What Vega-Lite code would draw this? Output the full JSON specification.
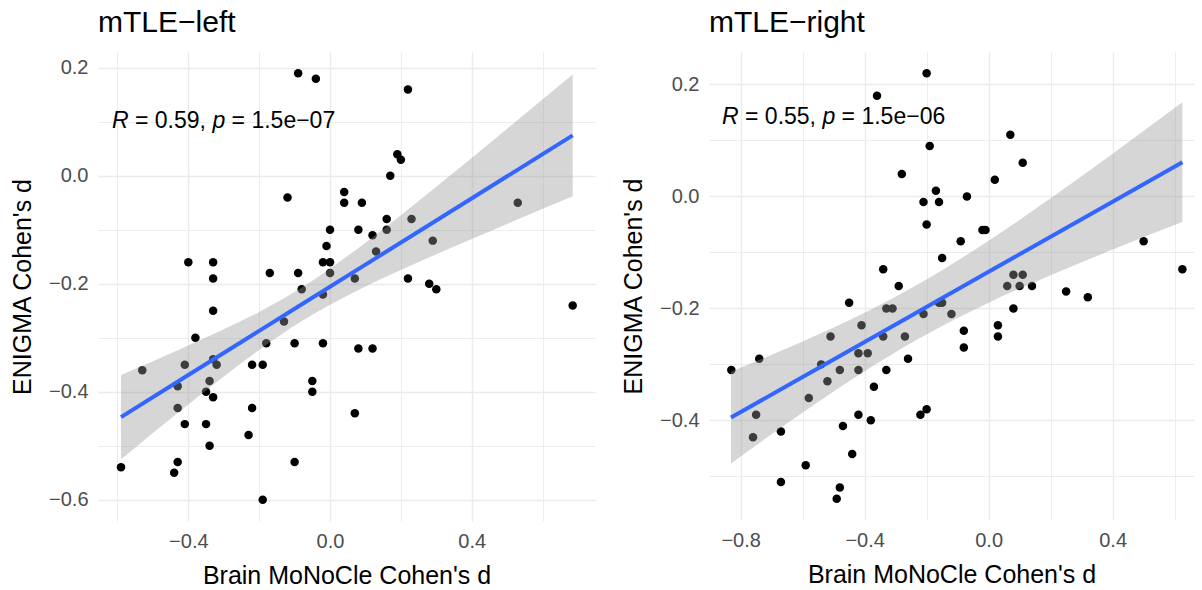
{
  "$schema": "https://vega.github.io/schema/vega-lite/v6.json",
  "background": "white",
  "padding": {"left": 10, "top": 8, "right": 6, "bottom": 2},
  "spacing": 26,
  "config": {
    "font": "Liberation Sans",
    "view": {"stroke": null},
    "axis": {
      "labelFont": "Liberation Sans", "labelFontSize": 20, "labelColor": "#4D4D4D",
      "titleFont": "Liberation Sans", "titleFontSize": 25, "titleColor": "#000000", "titleFontWeight": "normal",
      "domain": false, "ticks": false, "tickSize": 0, "gridColor": "#EBEBEB", "labelPadding": 10
    },
    "axisY": {"titlePadding": 13},
    "axisX": {"titlePadding": 12},
    "title": {"font": "Liberation Sans", "fontSize": 30, "fontWeight": "normal", "color": "#000000", "anchor": "start", "frame": "group", "offset": 14}
  },
  "datasets": {
    "leftPts": [
      {"monocle": -0.09, "enigma": 0.19}, {"monocle": -0.04, "enigma": 0.18}, {"monocle": -0.12, "enigma": -0.04},
      {"monocle": 0.04, "enigma": -0.03}, {"monocle": 0.04, "enigma": -0.05}, {"monocle": 0.0, "enigma": -0.10},
      {"monocle": -0.01, "enigma": -0.13}, {"monocle": -0.02, "enigma": -0.16}, {"monocle": 0.0, "enigma": -0.16},
      {"monocle": -0.40, "enigma": -0.16}, {"monocle": -0.33, "enigma": -0.16}, {"monocle": -0.33, "enigma": -0.19},
      {"monocle": -0.17, "enigma": -0.18}, {"monocle": -0.09, "enigma": -0.18}, {"monocle": 0.0, "enigma": -0.18},
      {"monocle": 0.09, "enigma": -0.05}, {"monocle": 0.22, "enigma": 0.16}, {"monocle": 0.19, "enigma": 0.04},
      {"monocle": 0.20, "enigma": 0.03}, {"monocle": 0.17, "enigma": 0.0}, {"monocle": 0.16, "enigma": -0.08},
      {"monocle": 0.23, "enigma": -0.08}, {"monocle": 0.08, "enigma": -0.10}, {"monocle": 0.16, "enigma": -0.10},
      {"monocle": 0.12, "enigma": -0.11}, {"monocle": 0.13, "enigma": -0.14}, {"monocle": 0.29, "enigma": -0.12},
      {"monocle": 0.53, "enigma": -0.05}, {"monocle": 0.07, "enigma": -0.19}, {"monocle": 0.22, "enigma": -0.19},
      {"monocle": 0.28, "enigma": -0.20}, {"monocle": 0.30, "enigma": -0.21}, {"monocle": 0.685, "enigma": -0.24},
      {"monocle": 0.08, "enigma": -0.32}, {"monocle": 0.12, "enigma": -0.32}, {"monocle": 0.07, "enigma": -0.44},
      {"monocle": -0.08, "enigma": -0.21}, {"monocle": -0.02, "enigma": -0.22}, {"monocle": -0.33, "enigma": -0.25},
      {"monocle": -0.13, "enigma": -0.27}, {"monocle": -0.38, "enigma": -0.30}, {"monocle": -0.18, "enigma": -0.31},
      {"monocle": -0.10, "enigma": -0.31}, {"monocle": -0.02, "enigma": -0.31}, {"monocle": -0.53, "enigma": -0.36},
      {"monocle": -0.41, "enigma": -0.35}, {"monocle": -0.33, "enigma": -0.34}, {"monocle": -0.32, "enigma": -0.35},
      {"monocle": -0.22, "enigma": -0.35}, {"monocle": -0.19, "enigma": -0.35}, {"monocle": -0.34, "enigma": -0.38},
      {"monocle": -0.43, "enigma": -0.39}, {"monocle": -0.35, "enigma": -0.40}, {"monocle": -0.33, "enigma": -0.41},
      {"monocle": -0.05, "enigma": -0.38}, {"monocle": -0.05, "enigma": -0.40}, {"monocle": -0.43, "enigma": -0.43},
      {"monocle": -0.22, "enigma": -0.43}, {"monocle": -0.41, "enigma": -0.46}, {"monocle": -0.35, "enigma": -0.46},
      {"monocle": -0.23, "enigma": -0.48}, {"monocle": -0.34, "enigma": -0.50}, {"monocle": -0.59, "enigma": -0.54},
      {"monocle": -0.43, "enigma": -0.53}, {"monocle": -0.44, "enigma": -0.55}, {"monocle": -0.10, "enigma": -0.53},
      {"monocle": -0.19, "enigma": -0.60}
    ],
    "rightPts": [
      {"monocle": -0.20, "enigma": 0.22}, {"monocle": -0.36, "enigma": 0.18}, {"monocle": -0.19, "enigma": 0.09},
      {"monocle": -0.28, "enigma": 0.04}, {"monocle": -0.17, "enigma": 0.01}, {"monocle": -0.21, "enigma": -0.01},
      {"monocle": -0.16, "enigma": -0.01}, {"monocle": -0.20, "enigma": -0.05}, {"monocle": -0.15, "enigma": -0.11},
      {"monocle": -0.34, "enigma": -0.13}, {"monocle": 0.07, "enigma": 0.11}, {"monocle": 0.11, "enigma": 0.06},
      {"monocle": 0.02, "enigma": 0.03}, {"monocle": -0.07, "enigma": 0.0}, {"monocle": -0.02, "enigma": -0.06},
      {"monocle": -0.01, "enigma": -0.06}, {"monocle": -0.09, "enigma": -0.08}, {"monocle": 0.50, "enigma": -0.08},
      {"monocle": 0.625, "enigma": -0.13}, {"monocle": 0.08, "enigma": -0.14}, {"monocle": 0.11, "enigma": -0.14},
      {"monocle": 0.06, "enigma": -0.16}, {"monocle": 0.10, "enigma": -0.16}, {"monocle": 0.14, "enigma": -0.16},
      {"monocle": 0.25, "enigma": -0.17}, {"monocle": 0.32, "enigma": -0.18}, {"monocle": -0.16, "enigma": -0.19},
      {"monocle": -0.15, "enigma": -0.19}, {"monocle": -0.12, "enigma": -0.21}, {"monocle": 0.08, "enigma": -0.20},
      {"monocle": -0.08, "enigma": -0.24}, {"monocle": -0.08, "enigma": -0.27}, {"monocle": 0.03, "enigma": -0.23},
      {"monocle": 0.03, "enigma": -0.25}, {"monocle": -0.29, "enigma": -0.16}, {"monocle": -0.45, "enigma": -0.19},
      {"monocle": -0.33, "enigma": -0.20}, {"monocle": -0.31, "enigma": -0.20}, {"monocle": -0.21, "enigma": -0.21},
      {"monocle": -0.41, "enigma": -0.23}, {"monocle": -0.51, "enigma": -0.25}, {"monocle": -0.34, "enigma": -0.25},
      {"monocle": -0.27, "enigma": -0.25}, {"monocle": -0.74, "enigma": -0.29}, {"monocle": -0.26, "enigma": -0.29},
      {"monocle": -0.42, "enigma": -0.28}, {"monocle": -0.39, "enigma": -0.28}, {"monocle": -0.54, "enigma": -0.30},
      {"monocle": -0.83, "enigma": -0.31}, {"monocle": -0.48, "enigma": -0.31}, {"monocle": -0.42, "enigma": -0.31},
      {"monocle": -0.33, "enigma": -0.31}, {"monocle": -0.52, "enigma": -0.33}, {"monocle": -0.37, "enigma": -0.34},
      {"monocle": -0.58, "enigma": -0.36}, {"monocle": -0.75, "enigma": -0.39}, {"monocle": -0.42, "enigma": -0.39},
      {"monocle": -0.38, "enigma": -0.40}, {"monocle": -0.22, "enigma": -0.39}, {"monocle": -0.20, "enigma": -0.38},
      {"monocle": -0.76, "enigma": -0.43}, {"monocle": -0.67, "enigma": -0.42}, {"monocle": -0.47, "enigma": -0.41},
      {"monocle": -0.44, "enigma": -0.46}, {"monocle": -0.59, "enigma": -0.48}, {"monocle": -0.67, "enigma": -0.51},
      {"monocle": -0.48, "enigma": -0.52}, {"monocle": -0.49, "enigma": -0.54}
    ],
    "leftBand": [
      {"monocle": -0.59, "lo": -0.525, "hi": -0.369, "fit": -0.447},
      {"monocle": -0.4, "lo": -0.4235, "hi": -0.3145, "fit": -0.369},
      {"monocle": -0.2, "lo": -0.3225, "hi": -0.2521, "fit": -0.2873},
      {"monocle": -0.084, "lo": -0.2709, "hi": -0.2087, "fit": -0.2398},
      {"monocle": 0.1, "lo": -0.2051, "hi": -0.1239, "fit": -0.1645},
      {"monocle": 0.3, "lo": -0.1452, "hi": -0.02, "fit": -0.0826},
      {"monocle": 0.5, "lo": -0.089, "hi": 0.0874, "fit": -0.0008},
      {"monocle": 0.685, "lo": -0.038, "hi": 0.188, "fit": 0.075}
    ],
    "rightBand": [
      {"monocle": -0.831, "lo": -0.477, "hi": -0.313, "fit": -0.395},
      {"monocle": -0.6, "lo": -0.3859, "hi": -0.2593, "fit": -0.3226},
      {"monocle": -0.4, "lo": -0.3121, "hi": -0.2079, "fit": -0.26},
      {"monocle": -0.236, "lo": -0.2575, "hi": -0.1597, "fit": -0.2086},
      {"monocle": 0.0, "lo": -0.19, "hi": -0.0792, "fit": -0.1346},
      {"monocle": 0.2, "lo": -0.1407, "hi": -0.0033, "fit": -0.072},
      {"monocle": 0.4, "lo": -0.0949, "hi": 0.0763, "fit": -0.0093},
      {"monocle": 0.625, "lo": -0.0458, "hi": 0.1682, "fit": 0.0612}
    ],
    "leftLab": [{"monocle": -0.6155, "enigma": 0.101}],
    "rightLab": [{"monocle": -0.86, "enigma": 0.1416}]
  },
  "hconcat": [
    {
      "title": "mTLE−left",
      "width": 497,
      "height": 469,
      "layer": [
        {
          "data": {"name": "leftPts"},
          "mark": {"type": "circle", "size": 72, "color": "#000000", "opacity": 1},
          "encoding": {
            "x": {"field": "monocle", "type": "quantitative",
              "scale": {"domain": [-0.655, 0.748], "nice": false, "zero": false},
              "axis": {"title": "Brain MoNoCle Cohen's d", "values": [-0.6, -0.4, -0.2, 0, 0.2, 0.4, 0.6], "format": ".1f",
                "labelExpr": "abs(round(datum.value*10)) % 4 == 0 ? datum.label : ''",
                "gridWidth": {"condition": {"test": "abs(round(datum.value*10)) % 4 == 0", "value": 1.4}, "value": 0.9}}},
            "y": {"field": "enigma", "type": "quantitative",
              "scale": {"domain": [-0.6395, 0.2295], "nice": false, "zero": false},
              "axis": {"title": "ENIGMA Cohen's d", "values": [-0.6, -0.5, -0.4, -0.3, -0.2, -0.1, 0, 0.1, 0.2], "format": ".1f",
                "labelExpr": "abs(round(datum.value*10)) % 2 == 0 ? datum.label : ''",
                "gridWidth": {"condition": {"test": "abs(round(datum.value*10)) % 2 == 0", "value": 1.4}, "value": 0.9}}}
          }
        },
        {
          "data": {"name": "leftBand"},
          "mark": {"type": "area", "color": "#999999", "opacity": 0.4, "interpolate": "monotone"},
          "encoding": {
            "x": {"field": "monocle", "type": "quantitative", "title": "Brain MoNoCle Cohen's d"},
            "y": {"field": "lo", "type": "quantitative", "title": "ENIGMA Cohen's d"},
            "y2": {"field": "hi"}
          }
        },
        {
          "data": {"name": "leftBand"},
          "mark": {"type": "line", "color": "#3366FF", "strokeWidth": 4},
          "encoding": {
            "x": {"field": "monocle", "type": "quantitative", "title": "Brain MoNoCle Cohen's d"},
            "y": {"field": "fit", "type": "quantitative", "title": "ENIGMA Cohen's d"}
          }
        },
        {
          "data": {"name": "leftLab"},
          "layer": [
            {"mark": {"type": "text", "text": "R", "fontStyle": "italic", "fontSize": 23, "align": "left", "baseline": "middle", "color": "#000000"}},
            {"mark": {"type": "text", "text": "= 0.59,", "fontSize": 23, "align": "left", "baseline": "middle", "dx": 23, "color": "#000000"}},
            {"mark": {"type": "text", "text": "p", "fontStyle": "italic", "fontSize": 23, "align": "left", "baseline": "middle", "dx": 100.4, "color": "#000000"}},
            {"mark": {"type": "text", "text": "= 1.5e−07", "fontSize": 23, "align": "left", "baseline": "middle", "dx": 119.6, "color": "#000000"}}
          ],
          "encoding": {
            "x": {"field": "monocle", "type": "quantitative", "title": "Brain MoNoCle Cohen's d"},
            "y": {"field": "enigma", "type": "quantitative", "title": "ENIGMA Cohen's d"}
          }
        }
      ]
    },
    {
      "title": "mTLE−right",
      "width": 485,
      "height": 468,
      "layer": [
        {
          "data": {"name": "rightPts"},
          "mark": {"type": "circle", "size": 72, "color": "#000000", "opacity": 1},
          "encoding": {
            "x": {"field": "monocle", "type": "quantitative",
              "scale": {"domain": [-0.902, 0.6625], "nice": false, "zero": false},
              "axis": {"title": "Brain MoNoCle Cohen's d", "values": [-0.8, -0.6, -0.4, -0.2, 0, 0.2, 0.4, 0.6], "format": ".1f",
                "labelExpr": "abs(round(datum.value*10)) % 4 == 0 ? datum.label : ''",
                "gridWidth": {"condition": {"test": "abs(round(datum.value*10)) % 4 == 0", "value": 1.4}, "value": 0.9}}},
            "y": {"field": "enigma", "type": "quantitative",
              "scale": {"domain": [-0.578, 0.258], "nice": false, "zero": false},
              "axis": {"title": "ENIGMA Cohen's d", "values": [-0.5, -0.4, -0.3, -0.2, -0.1, 0, 0.1, 0.2], "format": ".1f",
                "labelExpr": "abs(round(datum.value*10)) % 2 == 0 ? datum.label : ''",
                "gridWidth": {"condition": {"test": "abs(round(datum.value*10)) % 2 == 0", "value": 1.4}, "value": 0.9}}}
          }
        },
        {
          "data": {"name": "rightBand"},
          "mark": {"type": "area", "color": "#999999", "opacity": 0.4, "interpolate": "monotone"},
          "encoding": {
            "x": {"field": "monocle", "type": "quantitative", "title": "Brain MoNoCle Cohen's d"},
            "y": {"field": "lo", "type": "quantitative", "title": "ENIGMA Cohen's d"},
            "y2": {"field": "hi"}
          }
        },
        {
          "data": {"name": "rightBand"},
          "mark": {"type": "line", "color": "#3366FF", "strokeWidth": 4},
          "encoding": {
            "x": {"field": "monocle", "type": "quantitative", "title": "Brain MoNoCle Cohen's d"},
            "y": {"field": "fit", "type": "quantitative", "title": "ENIGMA Cohen's d"}
          }
        },
        {
          "data": {"name": "rightLab"},
          "layer": [
            {"mark": {"type": "text", "text": "R", "fontStyle": "italic", "fontSize": 23, "align": "left", "baseline": "middle", "color": "#000000"}},
            {"mark": {"type": "text", "text": "= 0.55,", "fontSize": 23, "align": "left", "baseline": "middle", "dx": 23, "color": "#000000"}},
            {"mark": {"type": "text", "text": "p", "fontStyle": "italic", "fontSize": 23, "align": "left", "baseline": "middle", "dx": 100.4, "color": "#000000"}},
            {"mark": {"type": "text", "text": "= 1.5e−06", "fontSize": 23, "align": "left", "baseline": "middle", "dx": 119.6, "color": "#000000"}}
          ],
          "encoding": {
            "x": {"field": "monocle", "type": "quantitative", "title": "Brain MoNoCle Cohen's d"},
            "y": {"field": "enigma", "type": "quantitative", "title": "ENIGMA Cohen's d"}
          }
        }
      ]
    }
  ]
}
